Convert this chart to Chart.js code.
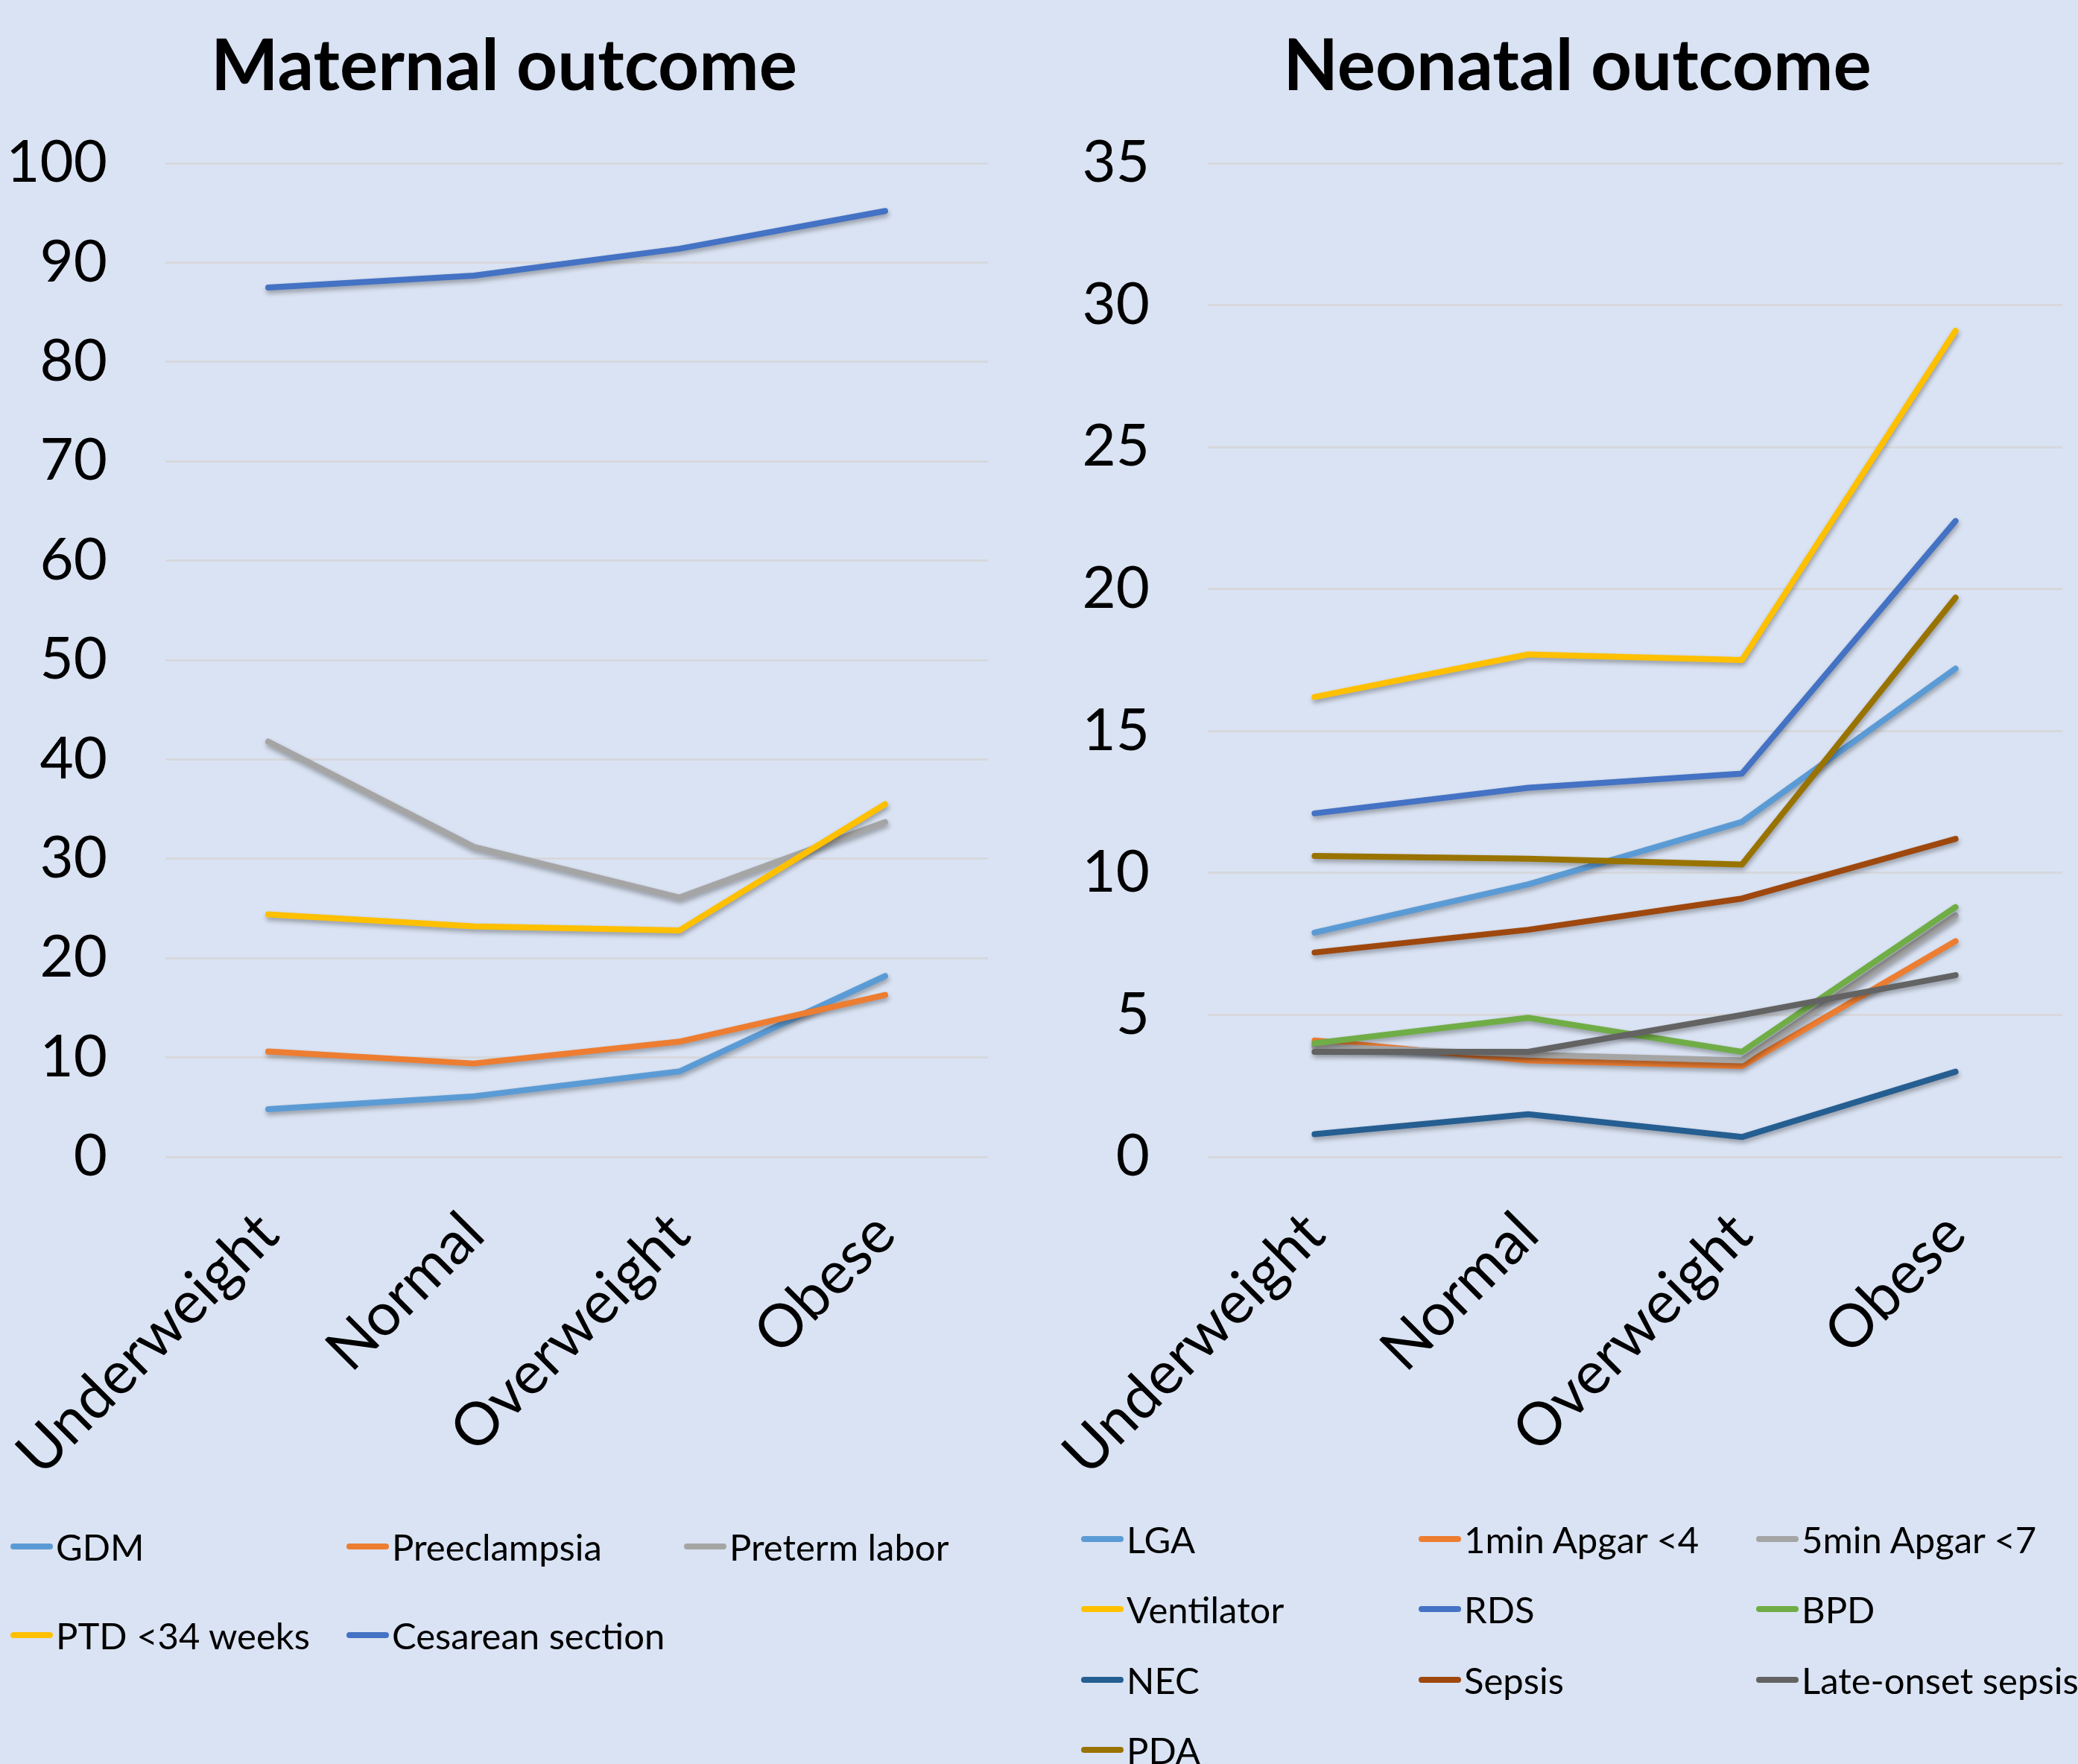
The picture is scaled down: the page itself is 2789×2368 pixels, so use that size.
<!DOCTYPE html>
<html>
<head>
<meta charset="utf-8">
<script src="https://cdn.jsdelivr.net/npm/chart.js@4/dist/chart.umd.min.js"></script>
<style>
  html, body { margin: 0; padding: 0; background: #DAE3F3; }
  body { width: 2789px; height: 2368px; position: relative; overflow: hidden; font-family: Lato, sans-serif; }
  canvas { position: absolute; top: 0; }
  #maternal { left: 0; }
  #neonatal { left: 1390px; }
  .legend { position: absolute; font-size: 49px; color: #000; }
  .item { position: absolute; display: flex; align-items: center; height: 60px; white-space: nowrap; }
  .item .swatch { width: 57px; height: 8px; border-radius: 4px; margin-right: 4px; }
</style>
</head>
<body>
<canvas id="maternal" width="1390" height="1990"></canvas>
<canvas id="neonatal" width="1399" height="1990"></canvas>
<div id="legendLeft"></div>
<div id="legendRight"></div>
<script>
// BMI groups
const categories = ['Underweight', 'Normal', 'Overweight', 'Obese'];

// maternal outcome (%)
const gdm = [4.8, 6.1, 8.6, 18.2];
const preeclampsia = [10.6, 9.4, 11.6, 16.3];
const pretermLabor = [41.8, 31.2, 26.1, 33.7];
const ptd34 = [24.4, 23.2, 22.8, 35.5];
const cesarean = [87.5, 88.7, 91.4, 95.2];

// neonatal outcome (%)
const lga = [7.9, 9.6, 11.8, 17.2];
const apgar1 = [4.1, 3.4, 3.2, 7.6];
const apgar5 = [3.9, 3.6, 3.4, 8.5];
const ventilator = [16.2, 17.7, 17.5, 29.1];
const rds = [12.1, 13.0, 13.5, 22.4];
const bpd = [4.0, 4.9, 3.7, 8.8];
const nec = [0.8, 1.5, 0.7, 3.0];
const sepsis = [7.2, 8.0, 9.1, 11.2];
const lateSepsis = [3.7, 3.7, 5.0, 6.4];
const pda = [10.6, 10.5, 10.3, 19.7];

const maternalSeries = [
  ['GDM', gdm, '#5B9BD5'],
  ['Preeclampsia', preeclampsia, '#ED7D31'],
  ['Preterm labor', pretermLabor, '#A5A5A5'],
  ['PTD <34 weeks', ptd34, '#FFC000'],
  ['Cesarean section', cesarean, '#4472C4']
];
const neonatalSeries = [
  ['LGA', lga, '#5B9BD5'],
  ['1min Apgar <4', apgar1, '#ED7D31'],
  ['5min Apgar <7', apgar5, '#A5A5A5'],
  ['Ventilator', ventilator, '#FFC000'],
  ['RDS', rds, '#4472C4'],
  ['BPD', bpd, '#70AD47'],
  ['NEC', nec, '#255E91'],
  ['Sepsis', sepsis, '#9E480E'],
  ['Late-onset sepsis', lateSepsis, '#636363'],
  ['PDA', pda, '#997300']
];

const FONT = 'Lato, sans-serif';

// soft shadow under the lines, like the office chart
const shadowPlugin = {
  id: 'lineShadow',
  beforeDatasetDraw(chart) {
    const ctx = chart.ctx;
    ctx.save();
    ctx.shadowColor = 'rgba(0,0,0,0.32)';
    ctx.shadowBlur = 6;
    ctx.shadowOffsetX = 1;
    ctx.shadowOffsetY = 4;
  },
  afterDatasetDraw(chart) {
    chart.ctx.restore();
  }
};

// y labels are clipped to the axis box; the left padding only moves the title
const unclipYLabels = {
  id: 'unclipY',
  afterLayout(chart) {
    chart.scales.y.left = 0;
  }
};

function makeChart(id, title, series, yMax, step, cfg) {
  const datasets = series.map(([label, values, color], i) => ({
    label: label,
    data: values,
    borderColor: color,
    backgroundColor: color,
    borderWidth: 8,
    borderCapStyle: 'round',
    borderJoinStyle: 'round',
    pointRadius: 0,
    tension: 0,
    order: series.length - i
  }));
  const ctx = document.getElementById(id).getContext('2d');
  return new Chart(ctx, {
    type: 'line',
    data: { labels: categories, datasets: datasets },
    options: {
      responsive: false,
      animation: false,
      layout: { padding: { left: cfg.padLeft, right: cfg.padRight, top: 0, bottom: 0 } },
      plugins: {
        legend: { display: false },
        tooltip: { enabled: false },
        title: {
          display: true,
          text: title,
          color: '#000',
          font: { family: FONT, size: 96, weight: 'bold', lineHeight: 1.2 },
          padding: { top: 32, bottom: 72 }
        }
      },
      scales: {
        x: {
          offset: true,
          grid: { display: false },
          border: { display: false },
          ticks: {
            color: '#000',
            font: { family: FONT, size: 80 },
            minRotation: 45,
            maxRotation: 45,
            padding: 48
          },
          afterFit: s => {
            s.height = 437;
            // rotated labels may hang out to the left, keep the plot where it is
            s.paddingLeft = 0;
            s.paddingRight = 0;
          }
        },
        y: {
          min: 0,
          max: yMax,
          grid: { color: '#D6D8DC', lineWidth: 3, drawTicks: false },
          border: { display: false },
          ticks: {
            stepSize: step,
            color: '#000',
            font: { family: FONT, size: 78 },
            padding: 78
          },
          afterFit: s => { s.width = cfg.axisWidth; }
        }
      }
    },
    plugins: [shadowPlugin, unclipYLabels]
  });
}

function makeLegend(elId, series, cols, rows) {
  const box = document.getElementById(elId);
  box.className = 'legend';
  series.forEach(([label, , color], i) => {
    const item = document.createElement('div');
    item.className = 'item';
    item.style.left = cols[i % cols.length] + 'px';
    item.style.top = (rows[Math.floor(i / cols.length)] - 30) + 'px';
    const sw = document.createElement('span');
    sw.className = 'swatch';
    sw.style.background = color;
    const tx = document.createElement('span');
    tx.textContent = label;
    item.appendChild(sw);
    item.appendChild(tx);
    box.appendChild(item);
  });
}

makeChart('maternal', 'Maternal outcome', maternalSeries, 100, 10,
  { padLeft: 27, padRight: 64, axisWidth: 195 });
makeChart('neonatal', 'Neonatal outcome', neonatalSeries, 35, 5,
  { padLeft: 76, padRight: 21, axisWidth: 155 });

makeLegend('legendLeft', maternalSeries, [14, 465, 918], [2076, 2195]);
makeLegend('legendRight', neonatalSeries, [1451, 1904, 2357], [2066, 2160, 2255, 2349]);
</script>
</body>
</html>
